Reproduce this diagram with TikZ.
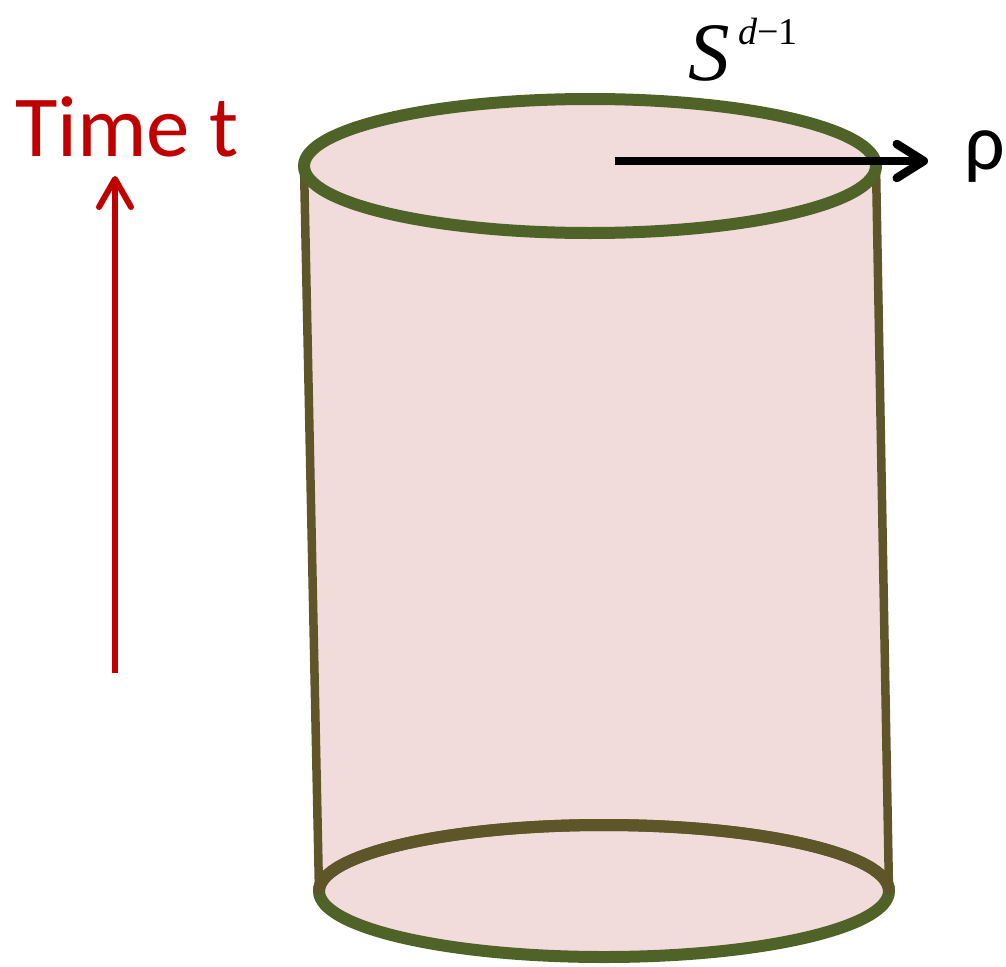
\documentclass[tikz,border=0pt]{standalone}
\usepackage{fontspec}
\setmainfont{Carlito}
\newfontfamily\timesf{Liberation Serif}
\usetikzlibrary{arrows.meta}
\definecolor{rimgreen}{HTML}{4F6228}
\definecolor{sidebrown}{HTML}{5E5629}
\definecolor{cylfill}{HTML}{F2DCDB}
\definecolor{timered}{HTML}{C00000}
\begin{document}
\begin{tikzpicture}[x=1pt,y=-1pt,
  rim/.style={draw=rimgreen, line width=12pt, fill=cylfill},
  sideline/.style={draw=sidebrown, line width=8.5pt, line cap=round},
  timearrow/.style={draw=timered, line width=6pt, -{Straight Barb[round,length=28pt,width=32pt]}},
  rhoarrow/.style={draw=black, line width=8.5pt, -{Straight Barb[round,length=27pt,width=34pt]}},
  lbl/.style={anchor=base west, inner sep=0pt, outer sep=0pt}]
\useasboundingbox (0,0) rectangle (1006,966);
% key points
\coordinate (tc) at (590,166);
\coordinate (bc) at (604,891);
\coordinate (tl) at (304,166);
\coordinate (tr) at (876,166);
\coordinate (bl) at (319,891);
\coordinate (br) at (889,891);
% body
\fill[cylfill] (tl) -- (tr) -- (br) -- (bl) -- cycle;
% bottom ellipse
\draw[rim] (bc) ellipse[x radius=285, y radius=66];
\draw[draw=sidebrown, line width=12pt] (bl) arc[start angle=180, end angle=360, x radius=285, y radius=66];
% sides
\draw[sideline] (tl) -- (bl);
\draw[sideline] (tr) -- (br);
% top ellipse
\draw[rim] (tc) ellipse[x radius=286, y radius=67];
% radius arrow
\coordinate (rstart) at (615,161);
\coordinate (rtip) at (928,161);
\draw[rhoarrow] (rstart) -- (rtip);
\node[lbl] (rho) at (964,169) {\fontsize{80}{90}\selectfont ρ};
% sphere label
\node[lbl] (S) at (688,80) {\timesf\fontsize{83}{90}\selectfont\itshape S};
\node[lbl] (sup) at (738,45) {\timesf\fontsize{38}{40}\selectfont\itshape d\upshape −1};
% time
\node[lbl, text=timered] (time) at (15,156) {\fontsize{87}{90}\selectfont Time t};
\coordinate (tbase) at (115,673);
\coordinate (ttip) at (115,176);
\draw[timearrow] (tbase) -- (ttip);
\end{tikzpicture}
\end{document}
